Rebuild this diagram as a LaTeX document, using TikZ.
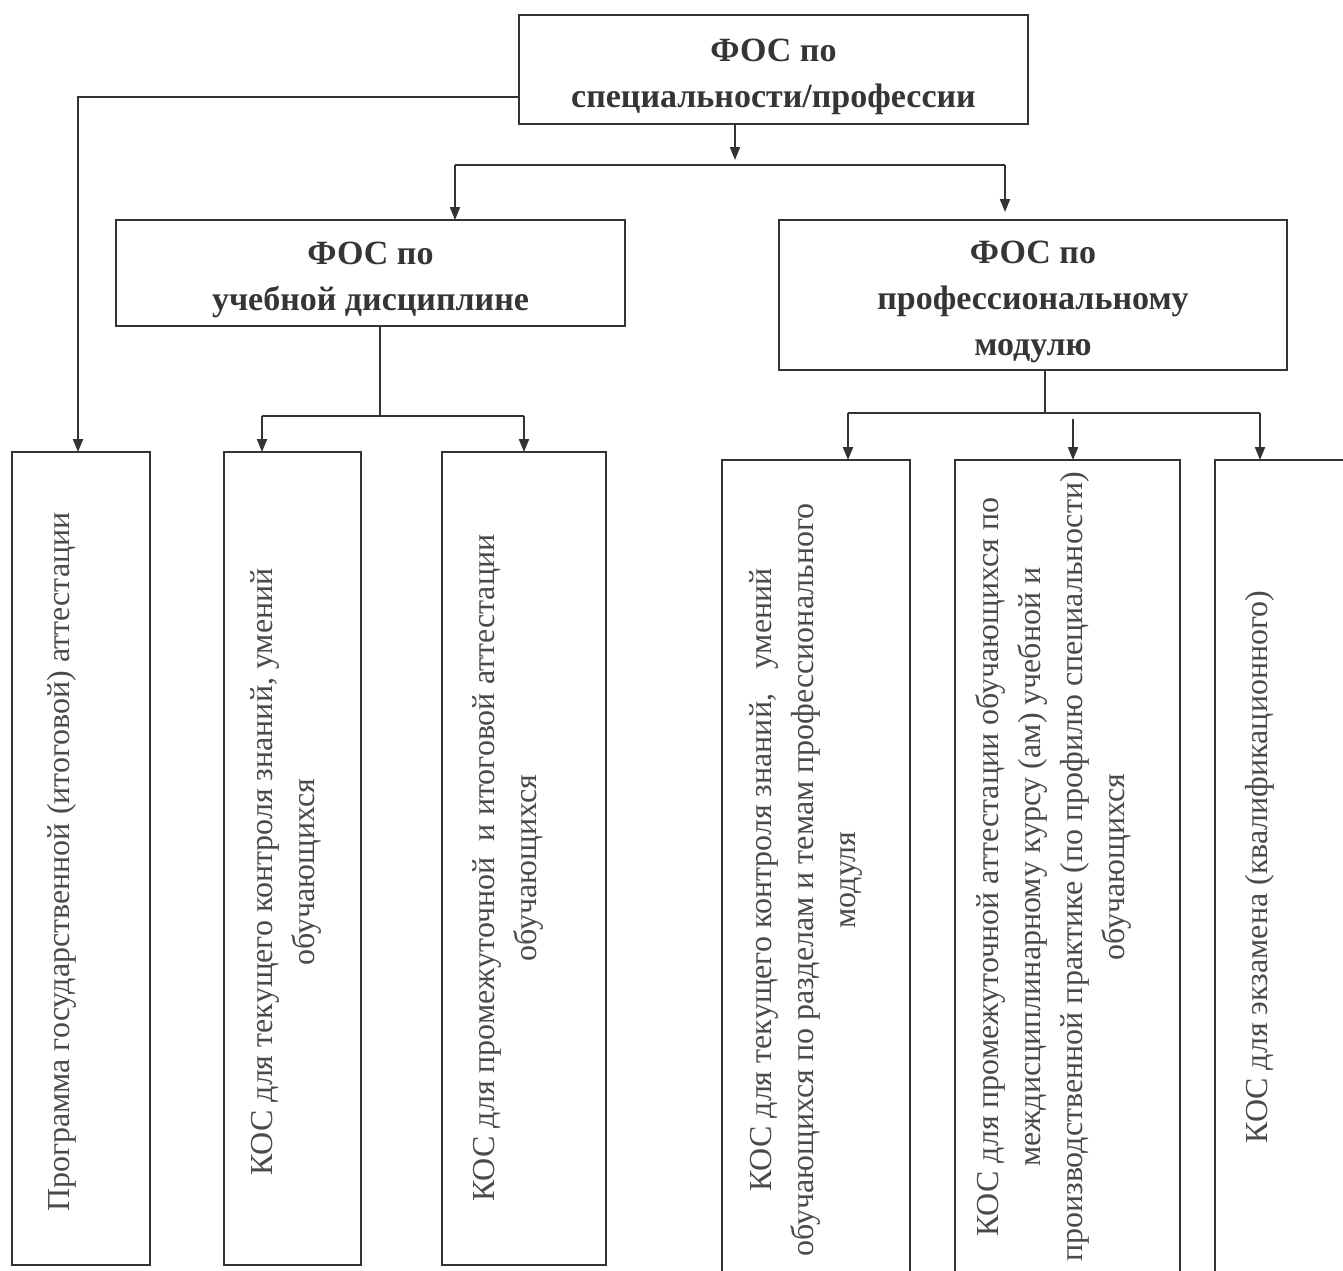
\documentclass[tikz,border=0pt]{standalone}
\usepackage{fontspec}
\setmainfont{Liberation Serif}
\usetikzlibrary{arrows.meta}
\definecolor{linec}{HTML}{333333}
\definecolor{txtc}{HTML}{353535}
\definecolor{vtxt}{HTML}{4A4A4A}
\tikzset{
  box/.style={draw=linec, line width=1.2pt, inner sep=0pt, outer sep=0pt},
  hdr/.style={align=center, inner sep=0pt, font=\bfseries\fontsize{17}{23}\selectfont, text=txtc},
  vlabel/.style={rotate=90, align=center, inner sep=0pt, text=vtxt, font=\fontsize{16}{21}\selectfont},
  conn/.style={draw=linec, line width=1pt},
  arr/.style={conn, -{Triangle[length=6.5pt,width=5pt]}}
}
\begin{document}
\begin{tikzpicture}[x=0.5pt,y=-0.5pt]
\useasboundingbox (0,0) rectangle (1343,1270);
\fill[white] (0,0) rectangle (1343,1270);
\clip (0,0) rectangle (1343,1270);
% header boxes
\node[box, minimum width=254.5pt, minimum height=54.5pt] (top) at (773.5,69.5) {};
\node[box, minimum width=254.5pt, minimum height=53pt] (ud) at (370.5,273) {};
\node[box, minimum width=254pt, minimum height=75pt] (pm) at (1033,295) {};
\node[hdr] (topt) at ([yshift=-3.5pt]top.center) {ФОС по\\специальности/профессии};
\node[hdr] (udt) at ([yshift=-3.5pt]ud.center) {ФОС по\\учебной дисциплине};
\node[hdr] (pmt) at ([yshift=-3.5pt]pm.center) {ФОС по\\профессиональному\\модулю};
% vertical boxes
\node[box, minimum width=69pt, minimum height=406.5pt] (A) at (81,858.5) {};
\node[box, minimum width=68.5pt, minimum height=406.5pt] (B) at (292.5,858.5) {};
\node[box, minimum width=82pt, minimum height=406.5pt] (C) at (524,858.5) {};
\node[box, minimum width=94pt, minimum height=407.5pt] (D) at (816,867.5) {};
\node[box, minimum width=112.5pt, minimum height=407.5pt] (E) at (1067.5,867.5) {};
\node[box, minimum width=92.5pt, minimum height=407.5pt] (F) at (1307.5,867.5) {};
% vertical texts
\node[vlabel] (tA) at (62,862) {Программа государственной (итоговой) аттестации};
\node[vlabel] (tB) at (286,872) {КОС для текущего контроля знаний, умений\\обучающихся};
\node[vlabel] (tC) at (508,868) {КОС для промежуточной\ \ и итоговой аттестации\\обучающихся};
\node[vlabel] (tD) at (806,880) {КОС для текущего контроля знаний,\ \ \ умений\\обучающихся по разделам и темам профессионального\\модуля};
\node[vlabel] (tE) at (1053,867) {КОС для промежуточной аттестации обучающихся по\\междисциплинарному курсу (ам) учебной и\\производственной практике (по профилю специальности)\\обучающихся};
\node[vlabel] (tF) at (1260,867) {КОС для экзамена (квалификационного)};
% junction coordinates
\coordinate (j0) at (735,160);
\coordinate (jl) at (455,165);
\coordinate (jr) at (1005,165);
\coordinate (k0) at (380,416);
\coordinate (kb) at (262,416);
\coordinate (kc) at (524,416);
\coordinate (m0) at (1045,413);
\coordinate (md) at (848,413);
\coordinate (me) at (1073,413);
\coordinate (mf) at (1260,413);
% connectors
\draw[arr] (top.west) ++(0,27) -| ([xshift=-1.5pt]A.north);
\draw[arr] (top.south -| j0) -- (j0);
\draw[conn] (jl) -- (jr);
\draw[arr] (jl) -- (jl |- ud.north);
\draw[arr] (jr) -- ([yshift=4pt]jr |- pm.north);
\draw[conn] (ud.south -| k0) -- (k0);
\draw[conn] (kb) -- (kc);
\draw[arr] (kb) -- (kb |- B.north);
\draw[arr] (kc) -- (kc |- C.north);
\draw[conn] (pm.south -| m0) -- (m0);
\draw[conn] (md) -- (mf);
\draw[arr] (md) -- (md |- D.north);
\draw[arr] ([yshift=-3pt]me) -- (me |- E.north);
\draw[arr] (mf) -- (mf |- F.north);
\end{tikzpicture}
\end{document}
